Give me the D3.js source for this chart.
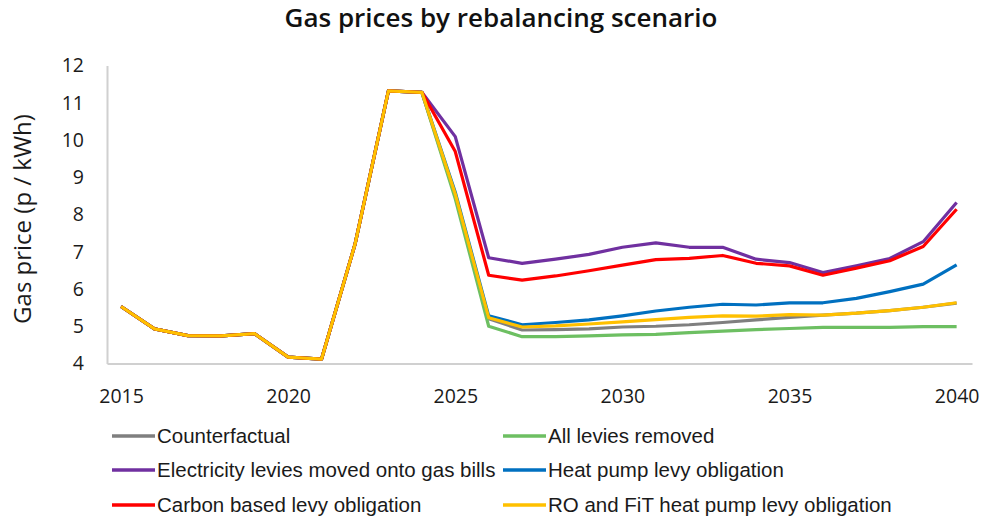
<!DOCTYPE html>
<html>
<head>
<meta charset="utf-8">
<script src="https://cdn.jsdelivr.net/npm/d3@7"></script>
<style>
  html, body { margin: 0; padding: 0; background: #ffffff; }
  svg { display: block; }
</style>
</head>
<body>
<svg id="chart" width="984" height="520"></svg>
<script>
// Years on the x axis
const years = [2015, 2016, 2017, 2018, 2019, 2020, 2021, 2022, 2023, 2024,
               2025, 2026, 2027, 2028, 2029, 2030, 2031, 2032, 2033, 2034,
               2035, 2036, 2037, 2038, 2039, 2040];

// Gas price (p / kWh) per scenario
const counterfactual = [5.53, 4.93, 4.75, 4.74, 4.80, 4.17, 4.12, 7.20, 11.32, 11.28,
                        8.50, 5.20, 4.90, 4.91, 4.93, 4.98, 5.00, 5.04, 5.10, 5.17,
                        5.24, 5.30, 5.35, 5.42, 5.51, 5.62];
const allLeviesRemoved = [5.53, 4.93, 4.75, 4.74, 4.80, 4.17, 4.12, 7.20, 11.32, 11.28,
                          8.42, 5.00, 4.72, 4.72, 4.74, 4.77, 4.78, 4.83, 4.87, 4.91,
                          4.94, 4.97, 4.97, 4.97, 4.99, 4.99];
const electricityLeviesOnGas = [5.53, 4.93, 4.75, 4.74, 4.80, 4.17, 4.12, 7.20, 11.32, 11.28,
                                10.09, 6.84, 6.69, 6.80, 6.93, 7.12, 7.24, 7.12, 7.12, 6.80,
                                6.71, 6.44, 6.62, 6.82, 7.27, 8.32];
const heatPumpLevy = [5.53, 4.93, 4.75, 4.74, 4.80, 4.17, 4.12, 7.20, 11.32, 11.28,
                      8.60, 5.28, 5.04, 5.10, 5.17, 5.28, 5.41, 5.51, 5.59, 5.57,
                      5.63, 5.63, 5.75, 5.93, 6.13, 6.65];
const carbonLevy = [5.53, 4.93, 4.75, 4.74, 4.80, 4.17, 4.12, 7.20, 11.32, 11.28,
                    9.69, 6.37, 6.24, 6.35, 6.49, 6.64, 6.79, 6.82, 6.90, 6.69,
                    6.62, 6.37, 6.56, 6.76, 7.14, 8.14];
const roFitHeatPumpLevy = [5.53, 4.93, 4.75, 4.74, 4.80, 4.17, 4.12, 7.20, 11.32, 11.28,
                           8.55, 5.23, 4.98, 5.01, 5.06, 5.12, 5.18, 5.24, 5.28, 5.27,
                           5.31, 5.30, 5.35, 5.42, 5.51, 5.63];

const seriesNames = ["Counterfactual", "All levies removed",
                     "Electricity levies moved onto gas bills", "Heat pump levy obligation",
                     "Carbon based levy obligation", "RO and FiT heat pump levy obligation"];
const seriesColors = ["#7f7f7f", "#6dbf62", "#7030a0", "#0070c0", "#ff0000", "#ffc000"];

// Axis ticks
const xTicks = [2015, 2020, 2025, 2030, 2035, 2040];
const yTicks = [4, 5, 6, 7, 8, 9, 10, 11, 12];

const seriesValues = [counterfactual, allLeviesRemoved, electricityLeviesOnGas,
                      heatPumpLevy, carbonLevy, roFitHeatPumpLevy];
const series = seriesNames.map((name, i) => ({
  name,
  color: seriesColors[i],
  points: years.map((yr, j) => ({ year: yr, value: seriesValues[i][j] }))
}));

const svg = d3.select("#chart");

const x = d3.scaleLinear().domain([2014.58, 2040.46]).range([107, 972]);
const y = d3.scaleLinear().domain([4, 12]).range([363.5, 65.5]);

// Title
svg.append("text")
  .attr("x", 501).attr("y", 27)
  .attr("text-anchor", "middle")
  .style("font-family", "'Open Sans', sans-serif")
  .style("font-weight", 600)
  .style("font-size", "26px")
  .attr("fill", "#111")
  .text("Gas prices by rebalancing scenario");

// Y axis title
svg.append("text")
  .attr("transform", "translate(31,219) rotate(-90)")
  .attr("text-anchor", "middle")
  .style("font-family", "'Open Sans', sans-serif")
  .style("font-size", "24px")
  .attr("fill", "#1a1a1a")
  .text("Gas price (p / kWh)");

// Axes
const xAxis = d3.axisBottom(x)
  .tickValues(xTicks)
  .tickFormat(d3.format("d"))
  .tickSize(0)
  .tickPadding(26);
const yAxis = d3.axisLeft(y)
  .tickValues(yTicks)
  .tickFormat(d3.format("d"))
  .tickSize(0)
  .tickPadding(23);

const gx = svg.append("g").attr("transform", "translate(0,363.5)").call(xAxis);
const gy = svg.append("g").attr("transform", "translate(107,0)").call(yAxis);

[gx, gy].forEach(g => {
  g.select(".domain").attr("stroke", "#d0d0d0").attr("stroke-width", 2);
  g.selectAll("text")
    .style("font-family", "'Open Sans', sans-serif")
    .style("font-size", "19.5px")
    .attr("fill", "#1a1a1a");
});

// Lines
const line = d3.line()
  .x(d => x(d.year))
  .y(d => y(d.value));

svg.append("g")
  .selectAll("path")
  .data(series)
  .join("path")
  .attr("d", d => line(d.points))
  .attr("fill", "none")
  .attr("stroke", d => d.color)
  .attr("stroke-width", 3.2)
  .attr("stroke-linejoin", "round");

// Legend: two columns, three rows
const legendCols = [112, 503];
const legendRows = [436, 470, 505];
const legend = svg.append("g")
  .selectAll("g")
  .data(series)
  .join("g")
  .attr("transform", (d, i) => `translate(${legendCols[i % 2]},${legendRows[Math.floor(i / 2)]})`);

legend.append("line")
  .attr("x1", 0).attr("x2", 43)
  .attr("y1", 0).attr("y2", 0)
  .attr("stroke", d => d.color)
  .attr("stroke-width", 3.5);

legend.append("text")
  .attr("x", 45)
  .attr("dy", "0.35em")
  .style("font-family", "'Liberation Sans', Arial, sans-serif")
  .style("font-size", "20.5px")
  .attr("fill", "#1a1a1a")
  .text(d => d.name);
</script>
</body>
</html>
